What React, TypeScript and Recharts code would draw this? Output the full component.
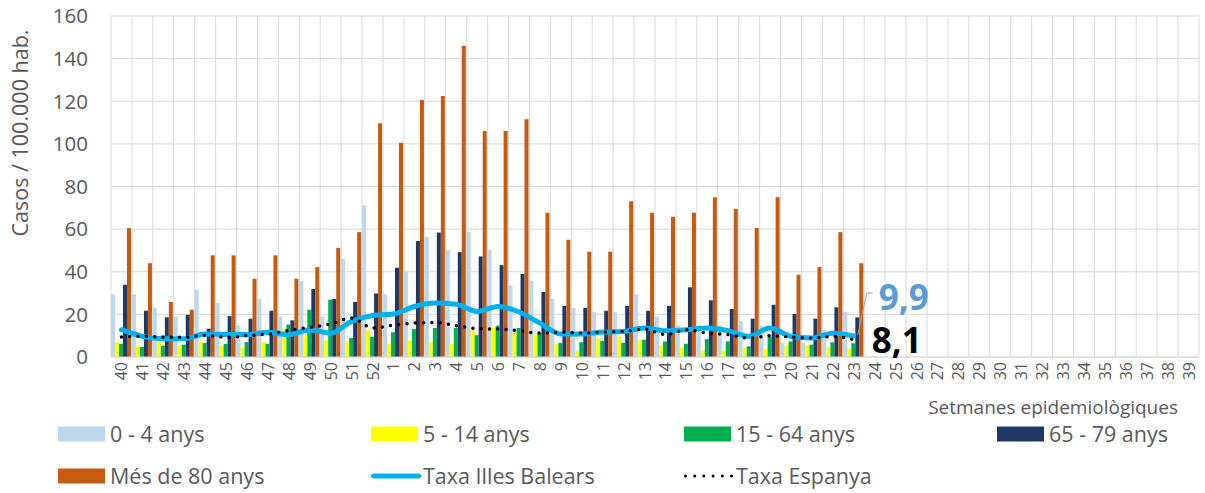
import React from 'react';
import { ComposedChart, Bar, Line, XAxis, YAxis, CartesianGrid, LabelList } from 'recharts';

// ---- data ----
const weeks = [
  '40', '41', '42', '43', '44', '45', '46', '47', '48', '49', '50', '51', '52',
  '1', '2', '3', '4', '5', '6', '7', '8', '9', '10', '11', '12', '13', '14', '15', '16', '17', '18', '19', '20',
  '21', '22', '23', '24', '25', '26', '27', '28', '29', '30', '31', '32', '33', '34', '35', '36', '37', '38', '39',
];

const age0to4 = [
  29.4, 29.4, 23.1, 19, 31.6, 25.3, 14.8, 27.3, 19, 35.8, 19, 46.1, 71.2,
  29.4, 40, 56.4, 50.3, 58.7, 50.3, 33.6, 35.8, 27.3, 23.1, 21.1, 21.1, 29.4, 19, 14.8, 14.8, 14.8, 16.9, 14.8, 6.6,
  6.6, 12.8, 21.2,
];
const age5to14 = [
  7, 5.3, 7, 5.5, 7, 5.5, 4.5, 7, 12.8, 9.7, 7.8, 7, 12.8,
  6.2, 7.8, 7, 6.2, 12.8, 13.6, 11.2, 10.5, 6.2, 2.7, 8.6, 9.5, 7.8, 5.5, 4.5, 3, 3, 4.5, 3.7, 5.5,
  5.5, 4.7, 3.7,
];
const age15to64 = [
  6.2, 4.7, 5.3, 5.8, 6.6, 6.2, 7, 6.2, 15.2, 22.2, 26.9, 8.9, 9.5,
  11.6, 13.1, 13.6, 13.6, 10.2, 14.7, 13.6, 11.2, 6.6, 7, 7.5, 6.6, 8.1, 7.3, 6.2, 8.4, 7.3, 5, 9.4, 7.3,
  5.8, 6.9, 6.4,
];
const age65to79 = [
  33.9, 21.7, 18.6, 19.8, 13.3, 19.2, 18, 21.7, 17.2, 31.9, 27.2, 25.9, 29.8,
  41.9, 54.4, 58.4, 49.2, 47.2, 43.1, 39, 30.5, 24, 23.1, 21.7, 24, 21.7, 24, 32.7, 26.6, 22.5, 18, 24.5, 20.2,
  18, 23.3, 18.6,
];
const age80plus = [
  60.5, 44, 25.8, 22.2, 47.7, 47.7, 36.7, 47.7, 36.7, 42.2, 51.2, 58.6, 109.7,
  100.5, 120.6, 122.5, 146, 106, 106, 111.6, 67.7, 55, 49.4, 49.4, 73.1, 67.7, 65.8, 67.7, 75, 69.5, 60.5, 75, 38.6,
  42.2, 58.6, 44,
];
const rateBalears = [
  12.8, 9.7, 8.6, 8.6, 10.8, 10.5, 10.5, 11.6, 10.5, 12.8, 11.2, 16.7, 19.5,
  20.2, 23.7, 25.3, 24.8, 21.4, 23.7, 21.1, 15.9, 10.8, 10.8, 11.7, 12, 13.6, 12.3, 12.8, 13.6, 12.3, 9.7, 13.6, 9.7,
  8.9, 11.2, 9.9,
];
const rateSpain = [
  9.4, 9.7, 9.4, 9.2, 10.2, 9.2, 10, 10.8, 12.5, 13.9, 15.5, 18.3, 13.6,
  15, 15.9, 16.2, 14.7, 13.3, 13.1, 12.3, 11.2, 11.6, 11.2, 11.7, 12, 13.1, 10.5, 12.8, 11.2, 10.5, 8.9, 10, 9.4,
  8.9, 9.7, 8.1,
];
const yTicks = [0, 20, 40, 60, 80, 100, 120, 140, 160];

const barSeries = [
  { key: 'a0', name: '0 - 4 anys', color: '#BDD7EE', values: age0to4 },
  { key: 'a5', name: '5 - 14 anys', color: '#FFFF00', values: age5to14 },
  { key: 'a15', name: '15 - 64 anys', color: '#00B050', values: age15to64 },
  { key: 'a65', name: '65 - 79 anys', color: '#203864', values: age65to79 },
  { key: 'a80', name: 'Més de 80 anys', color: '#C55A11', values: age80plus },
];

const data = weeks.map((w, i) => {
  const row: any = { week: w };
  barSeries.forEach((s) => {
    row[s.key] = s.values[i] ?? null;
  });
  row.balears = rateBalears[i] ?? null;
  row.spain = rateSpain[i] ?? null;
  return row;
});

const lastBalears = rateBalears.length - 1;
const lastSpain = rateSpain.length - 1;
const fmt = (v: number) => String(v).replace('.', ',');

const FONT = '"Open Sans", sans-serif';
const TXT = '#595959';

const XTick = (props: any) => {
  const { x, y, payload } = props;
  return (
    <text
      x={x}
      y={y}
      transform={`rotate(-90 ${x} ${y})`}
      textAnchor="end"
      dominantBaseline="central"
      fill={TXT}
      fontSize={16}
      fontFamily={FONT}
    >
      {payload.value}
    </text>
  );
};

const YLabel = (props: any) => {
  const vb = props.viewBox || { x: 51, y: 16 };
  const cx = vb.x - 32;
  const cy = vb.y + 117;
  return (
    <text
      x={cx}
      y={cy}
      transform={`rotate(-90 ${cx} ${cy})`}
      textAnchor="middle"
      dominantBaseline="central"
      fill={TXT}
      fontSize={21.5}
      fontFamily={FONT}
    >
      Casos / 100.000 hab.
    </text>
  );
};

const XLabel = (props: any) => {
  const vb = props.viewBox || { x: 111, y: 357, width: 1088, height: 60 };
  return (
    <text
      x={vb.x + vb.width - 21}
      y={vb.y + 50}
      textAnchor="end"
      dominantBaseline="central"
      fill={TXT}
      fontSize={19}
      fontFamily={FONT}
    >
      Setmanes epidemiològiques
    </text>
  );
};

const BalearsLabel = (props: any) => {
  const { x, y, index, value } = props;
  if (index !== lastBalears || value == null) return null;
  return (
    <g>
      <polyline
        points={`${x + 4},${y - 1} ${x + 13},${y - 43} ${x + 19},${y - 43}`}
        fill="none"
        stroke="#A6A6A6"
        strokeWidth={1}
      />
      <text x={x + 25} y={y - 26} fill="#5B9BD5" fontSize={35} fontWeight="bold" fontFamily={FONT}>
        {fmt(value)}
      </text>
    </g>
  );
};

const SpainLabel = (props: any) => {
  const { x, y, index, value } = props;
  if (index !== lastSpain || value == null) return null;
  return (
    <text x={x + 18} y={y + 13} fill="#000000" fontSize={35} fontWeight="bold" fontFamily={FONT}>
      {fmt(value)}
    </text>
  );
};

const gridX = (p: any) => {
  const off = p && p.offset ? p.offset : { left: 111, width: 1088 };
  const n = weeks.length;
  return Array.from({ length: n + 1 }, (_, i) => off.left + (i * off.width) / n);
};

const legendItems = [
  { ...barSeries[0], kind: 'bar', col: 0, row: 0 },
  { ...barSeries[1], kind: 'bar', col: 1, row: 0 },
  { ...barSeries[2], kind: 'bar', col: 2, row: 0 },
  { ...barSeries[3], kind: 'bar', col: 3, row: 0 },
  { ...barSeries[4], kind: 'bar', col: 0, row: 1 },
  { key: 'balears', name: 'Taxa Illes Balears', color: '#00B0F0', kind: 'line', col: 1, row: 1 },
  { key: 'spain', name: 'Taxa Espanya', color: '#000000', kind: 'dots', col: 2, row: 1 },
];

export default function App() {
  return (
    <div style={{ position: 'absolute', left: 0, top: 0, width: 1205, height: 493, fontFamily: FONT }}>
      <ComposedChart
        width={1205}
        height={493}
        data={data}
        margin={{ top: 16, right: 6, left: 51, bottom: 76 }}
        barCategoryGap={0}
        barGap={0}
      >
        <CartesianGrid stroke="#D9D9D9" strokeWidth={1} verticalCoordinatesGenerator={gridX} />
        <XAxis
          dataKey="week"
          interval={0}
          height={60}
          tickLine={false}
          tickSize={0}
          tickMargin={5}
          axisLine={{ stroke: '#D9D9D9' }}
          tick={<XTick />}
          label={<XLabel />}
        />
        <YAxis
          width={60}
          domain={[0, 160]}
          ticks={yTicks}
          axisLine={false}
          tickLine={false}
          tickSize={0}
          tickMargin={23}
          tick={{ fill: TXT, fontSize: 20.5, fontFamily: FONT }}
          label={<YLabel />}
        />
        {barSeries.map((s) => (
          <Bar key={s.key} dataKey={s.key} name={s.name} fill={s.color} isAnimationActive={false} />
        ))}
        <Line
          dataKey="balears"
          name="Taxa Illes Balears"
          type="monotone"
          stroke="#00B0F0"
          strokeWidth={5}
          strokeLinecap="round"
          dot={false}
          activeDot={false}
          isAnimationActive={false}
        >
          <LabelList dataKey="balears" content={<BalearsLabel />} />
        </Line>
        <Line
          dataKey="spain"
          name="Taxa Espanya"
          type="monotone"
          stroke="#000000"
          strokeWidth={3.5}
          strokeDasharray="0 8.3"
          strokeLinecap="round"
          dot={false}
          activeDot={false}
          isAnimationActive={false}
        >
          <LabelList dataKey="spain" content={<SpainLabel />} />
        </Line>
      </ComposedChart>
      {legendItems.map((it) => {
        const left = 58 + it.col * 313;
        const cy = it.row === 0 ? 434 : 476;
        return (
          <div
            key={it.key}
            style={{
              position: 'absolute',
              left,
              top: cy - 15,
              height: 30,
              display: 'flex',
              alignItems: 'center',
              whiteSpace: 'nowrap',
            }}
          >
            <svg width={52} height={30} style={{ display: 'block' }}>
              {it.kind === 'bar' && <rect x={0} y={7.5} width={47} height={15} fill={it.color} />}
              {it.kind === 'line' && (
                <line x1={2.5} y1={15} x2={47.5} y2={15} stroke={it.color} strokeWidth={5} strokeLinecap="round" />
              )}
              {it.kind === 'dots' && (
                <line
                  x1={1.5}
                  y1={15}
                  x2={47.5}
                  y2={15}
                  stroke={it.color}
                  strokeWidth={3}
                  strokeDasharray="0 9.2"
                  strokeLinecap="round"
                />
              )}
            </svg>
            <span style={{ fontSize: 21.5, color: TXT, lineHeight: '30px' }}>{it.name}</span>
          </div>
        );
      })}
    </div>
  );
}
